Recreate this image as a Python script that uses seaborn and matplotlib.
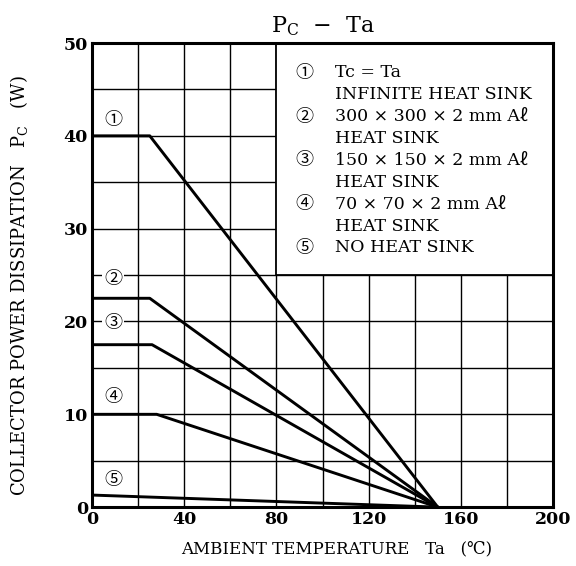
import matplotlib
matplotlib.use("Agg")
import matplotlib.pyplot as plt
import matplotlib.patches as patches
import seaborn as sns
import pandas as pd

# Derating curves (Ta in degC, Pc in W)
curve_ids = ["1", "2", "3", "4", "5"]
curve_ta = [
    [0, 25, 150],
    [0, 25, 150],
    [0, 26, 150],
    [0, 28, 150],
    [0, 150],
]
curve_pc = [
    [40, 40, 0],
    [22.5, 22.5, 0],
    [17.5, 17.5, 0],
    [10, 10, 0],
    [1.3, 0],
]
label_marks = ["\u2460", "\u2461", "\u2462", "\u2463", "\u2464"]
label_y = [41.7, 24.6, 19.8, 11.9, 2.9]

legend_lines = [
    ("\u2460", "Tc = Ta"),
    ("", "INFINITE HEAT SINK"),
    ("\u2461", "300 \u00d7 300 \u00d7 2 mm A\u2113"),
    ("", "HEAT SINK"),
    ("\u2462", "150 \u00d7 150 \u00d7 2 mm A\u2113"),
    ("", "HEAT SINK"),
    ("\u2463", "70 \u00d7 70 \u00d7 2 mm A\u2113"),
    ("", "HEAT SINK"),
    ("\u2464", "NO HEAT SINK"),
]

x_ticks = [0, 40, 80, 120, 160, 200]
y_ticks = [0, 10, 20, 30, 40, 50]

rows = []
for cid, xs, ys in zip(curve_ids, curve_ta, curve_pc):
    for x, y in zip(xs, ys):
        rows.append({"curve": cid, "Ta": x, "Pc": y})
df = pd.DataFrame(rows)

sns.set_style("white")
plt.rcParams["font.family"] = ["DejaVu Serif", "Noto Sans CJK JP", "DejaVu Sans"]
plt.rcParams["mathtext.fontset"] = "dejavuserif"
plt.rcParams["text.color"] = "black"
plt.rcParams["axes.labelcolor"] = "black"
plt.rcParams["xtick.color"] = "black"
plt.rcParams["ytick.color"] = "black"

circ_font = ["Noto Sans CJK JP", "DejaVu Sans"]

fig = plt.figure(figsize=(5.76, 5.66), dpi=100)
ax = fig.add_axes([0.16, 0.104, 0.8, 0.82])

# grid
for gx in range(20, 200, 20):
    ax.axvline(gx, color="black", lw=1.0, zorder=1)
for gy in range(5, 50, 5):
    ax.axhline(gy, color="black", lw=1.0, zorder=1)

sns.lineplot(data=df, x="Ta", y="Pc", hue="curve",
             palette=["black"] * 5, linewidth=2.1, legend=False,
             estimator=None, sort=False, ax=ax, zorder=3)

# legend box (blank area without grid)
ax.add_patch(patches.Rectangle((80, 25), 120, 25, facecolor="white",
                               edgecolor="black", lw=1.3, zorder=2))

for mark, y in zip(label_marks, label_y):
    ax.text(9, y, mark, ha="center", va="center", fontsize=13,
            family=circ_font, zorder=4,
            bbox=dict(facecolor="white", edgecolor="none", pad=1.5))

y0 = 46.8
for i, (mark, text) in enumerate(legend_lines):
    yy = y0 - i * 2.36
    if mark:
        ax.text(92, yy, mark, ha="center", va="center", fontsize=13,
                family=circ_font, zorder=4)
    ax.text(105.5, yy, text, ha="left", va="center", fontsize=12.5, zorder=4)

ax.set_xlim(0, 200)
ax.set_ylim(0, 50)
ax.set_xticks(x_ticks)
ax.set_yticks(y_ticks)
ax.set_xticklabels([str(t) for t in x_ticks], fontsize=12.5, fontweight="bold")
ax.set_yticklabels([str(t) for t in y_ticks], fontsize=12.5, fontweight="bold")
ax.tick_params(length=0, pad=3)

for sp in ax.spines.values():
    sp.set_linewidth(2.2)
    sp.set_color("black")
    sp.set_zorder(5)

ax.set_xlabel("AMBIENT TEMPERATURE   Ta   (\u2103)", fontsize=12)
ax.xaxis.set_label_coords(0.53, -0.072)
ax.set_ylabel("COLLECTOR POWER DISSIPATION   $\\mathregular{P_C}$   (W)",
              fontsize=13)
ax.yaxis.set_label_coords(-0.135, 0.478)
ax.set_title("$\\mathregular{P_C}$  \u2212  Ta", fontsize=16, pad=8)

fig.savefig("out.png", dpi=100, facecolor="white")
